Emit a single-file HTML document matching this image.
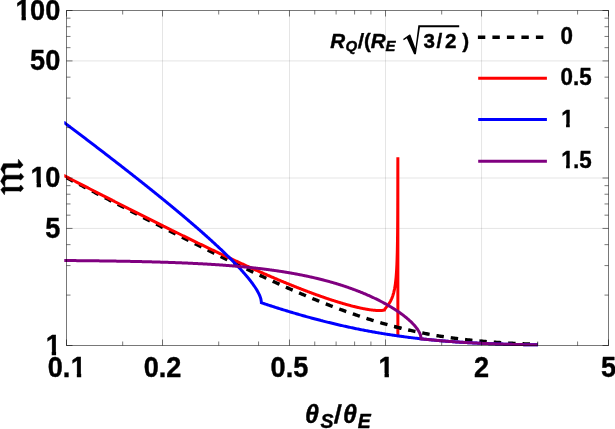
<!DOCTYPE html>
<html><head><meta charset="utf-8"><title>plot</title>
<style>
html,body{margin:0;padding:0;background:#fff;}
svg{display:block;will-change:transform;}
text{font-family:"Liberation Sans",sans-serif;font-weight:bold;fill:#000;stroke:#000;stroke-width:0.4;stroke-linejoin:round;}
.i{font-style:italic;}
</style></head><body>
<svg width="615" height="429" viewBox="0 0 615 429">
<rect width="615" height="429" fill="#fff"/>
<defs><clipPath id="cc"><rect x="64.3" y="0" width="560" height="429"/></clipPath></defs>
<g stroke="#000" stroke-opacity="0.105" stroke-width="1" fill="none">
<line x1="162.53" y1="10.5" x2="162.53" y2="345.5"/>
<line x1="289.48" y1="10.5" x2="289.48" y2="345.5"/>
<line x1="385.52" y1="10.5" x2="385.52" y2="345.5"/>
<line x1="481.55" y1="10.5" x2="481.55" y2="345.5"/>
<line x1="66.5" y1="228.42" x2="608.5" y2="228.42"/>
<line x1="66.5" y1="178.00" x2="608.5" y2="178.00"/>
<line x1="66.5" y1="60.92" x2="608.5" y2="60.92"/>
</g>
<g fill="none" stroke-width="3" stroke-linejoin="miter" clip-path="url(#cc)">
<path d="M63.60 176.22 L64.60 176.74 L65.60 177.26 L66.60 177.78 L67.60 178.30 L68.60 178.82 L69.60 179.34 L70.60 179.86 L71.60 180.39 L72.60 180.91 L73.60 181.43 L74.60 181.95 L75.60 182.47 L76.60 182.99 L77.60 183.51 L78.60 184.03 L79.60 184.55 L80.60 185.07 L81.60 185.59 L82.60 186.11 L83.60 186.63 L84.60 187.15 L85.60 187.67 L86.60 188.19 L87.60 188.71 L88.60 189.23 L89.60 189.75 L90.60 190.27 L91.60 190.79 L92.60 191.31 L93.60 191.83 L94.60 192.35 L95.60 192.87 L96.60 193.38 L97.60 193.90 L98.60 194.42 L99.60 194.94 L100.60 195.46 L101.60 195.98 L102.60 196.50 L103.60 197.02 L104.60 197.53 L105.60 198.05 L106.60 198.57 L107.60 199.09 L108.60 199.61 L109.60 200.12 L110.60 200.64 L111.60 201.16 L112.60 201.68 L113.60 202.19 L114.60 202.71 L115.60 203.23 L116.60 203.75 L117.60 204.26 L118.60 204.78 L119.60 205.30 L120.60 205.81 L121.60 206.33 L122.60 206.85 L123.60 207.36 L124.60 207.88 L125.60 208.39 L126.60 208.91 L127.60 209.43 L128.60 209.94 L129.60 210.46 L130.60 210.97 L131.60 211.49 L132.60 212.00 L133.60 212.52 L134.60 213.03 L135.60 213.55 L136.60 214.06 L137.60 214.58 L138.60 215.09 L139.60 215.60 L140.60 216.12 L141.60 216.63 L142.60 217.15 L143.60 217.66 L144.60 218.17 L145.60 218.68 L146.60 219.20 L147.60 219.71 L148.60 220.22 L149.60 220.74 L150.60 221.25 L151.60 221.76 L152.60 222.27 L153.60 222.78 L154.60 223.29 L155.60 223.81 L156.60 224.32 L157.60 224.83 L158.60 225.34 L159.60 225.85 L160.60 226.36 L161.60 226.87 L162.60 227.38 L163.60 227.89 L164.60 228.40 L165.60 228.91 L166.60 229.41 L167.60 229.92 L168.60 230.43 L169.60 230.94 L170.60 231.45 L171.60 231.96 L172.60 232.46 L173.60 232.97 L174.60 233.48 L175.60 233.98 L176.60 234.49 L177.60 235.00 L178.60 235.50 L179.60 236.01 L180.60 236.51 L181.60 237.02 L182.60 237.52 L183.60 238.03 L184.60 238.53 L185.60 239.04 L186.60 239.54 L187.60 240.04 L188.60 240.55 L189.60 241.05 L190.60 241.55 L191.60 242.05 L192.60 242.55 L193.60 243.06 L194.60 243.56 L195.60 244.06 L196.60 244.56 L197.60 245.06 L198.60 245.56 L199.60 246.06 L200.60 246.56 L201.60 247.05 L202.60 247.55 L203.60 248.05 L204.60 248.55 L205.60 249.05 L206.60 249.54 L207.60 250.04 L208.60 250.53 L209.60 251.03 L210.60 251.53 L211.60 252.02 L212.60 252.51 L213.60 253.01 L214.60 253.50 L215.60 253.99 L216.60 254.49 L217.60 254.98 L218.60 255.47 L219.60 255.96 L220.60 256.45 L221.60 256.94 L222.60 257.43 L223.60 257.92 L224.60 258.41 L225.60 258.90 L226.60 259.39 L227.60 259.87 L228.60 260.36 L229.60 260.85 L230.60 261.33 L231.60 261.82 L232.60 262.30 L233.60 262.79 L234.60 263.27 L235.60 263.75 L236.60 264.24 L237.60 264.72 L238.60 265.20 L239.60 265.68 L240.60 266.16 L241.60 266.64 L242.60 267.12 L243.60 267.60 L244.60 268.07 L245.60 268.55 L246.60 269.03 L247.60 269.50 L248.60 269.98 L249.60 270.45 L250.60 270.93 L251.60 271.40 L252.60 271.87 L253.60 272.34 L254.60 272.81 L255.60 273.28 L256.60 273.75 L257.60 274.22 L258.60 274.69 L259.60 275.16 L260.60 275.62 L261.60 276.09 L262.60 276.55 L263.60 277.02 L264.60 277.48 L265.60 277.94 L266.60 278.40 L267.60 278.86 L268.60 279.32 L269.60 279.78 L270.60 280.24 L271.60 280.70 L272.60 281.15 L273.60 281.61 L274.60 282.06 L275.60 282.52 L276.60 282.97 L277.60 283.42 L278.60 283.87 L279.60 284.32 L280.60 284.77 L281.60 285.22 L282.60 285.67 L283.60 286.11 L284.60 286.56 L285.60 287.00 L286.60 287.44 L287.60 287.89 L288.60 288.33 L289.60 288.77 L290.60 289.20 L291.60 289.64 L292.60 290.08 L293.60 290.51 L294.60 290.95 L295.60 291.38 L296.60 291.81 L297.60 292.24 L298.60 292.67 L299.60 293.10 L300.60 293.53 L301.60 293.95 L302.60 294.38 L303.60 294.80 L304.60 295.22 L305.60 295.65 L306.60 296.07 L307.60 296.48 L308.60 296.90 L309.60 297.32 L310.60 297.73 L311.60 298.14 L312.60 298.56 L313.60 298.97 L314.60 299.38 L315.60 299.78 L316.60 300.19 L317.60 300.60 L318.60 301.00 L319.60 301.40 L320.60 301.80 L321.60 302.20 L322.60 302.60 L323.60 302.99 L324.60 303.39 L325.60 303.78 L326.60 304.17 L327.60 304.56 L328.60 304.95 L329.60 305.34 L330.60 305.72 L331.60 306.11 L332.60 306.49 L333.60 306.87 L334.60 307.25 L335.60 307.63 L336.60 308.00 L337.60 308.38 L338.60 308.75 L339.60 309.12 L340.60 309.49 L341.60 309.86 L342.60 310.22 L343.60 310.59 L344.60 310.95 L345.60 311.31 L346.60 311.67 L347.60 312.02 L348.60 312.38 L349.60 312.73 L350.60 313.08 L351.60 313.43 L352.60 313.78 L353.60 314.13 L354.60 314.47 L355.60 314.81 L356.60 315.15 L357.60 315.49 L358.60 315.83 L359.60 316.16 L360.60 316.49 L361.60 316.82 L362.60 317.15 L363.60 317.48 L364.60 317.80 L365.60 318.13 L366.60 318.45 L367.60 318.76 L368.60 319.08 L369.60 319.40 L370.60 319.71 L371.60 320.02 L372.60 320.33 L373.60 320.63 L374.60 320.94 L375.60 321.24 L376.60 321.54 L377.60 321.84 L378.60 322.13 L379.60 322.43 L380.60 322.72 L381.60 323.01 L382.60 323.29 L383.60 323.58 L384.60 323.86 L385.60 324.14 L386.60 324.42 L387.60 324.70 L388.60 324.97 L389.60 325.25 L390.60 325.52 L391.60 325.78 L392.60 326.05 L393.60 326.31 L394.60 326.57 L395.60 326.83 L396.60 327.09 L397.60 327.35 L398.60 327.60 L399.60 327.85 L400.60 328.10 L401.60 328.34 L402.60 328.59 L403.60 328.83 L404.60 329.07 L405.60 329.30 L406.60 329.54 L407.60 329.77 L408.60 330.00 L409.60 330.23 L410.60 330.46 L411.60 330.68 L412.60 330.90 L413.60 331.12 L414.60 331.34 L415.60 331.55 L416.60 331.77 L417.60 331.98 L418.60 332.18 L419.60 332.39 L420.60 332.59 L421.60 332.80 L422.60 333.00 L423.60 333.19 L424.60 333.39 L425.60 333.58 L426.60 333.77 L427.60 333.96 L428.60 334.15 L429.60 334.33 L430.60 334.51 L431.60 334.69 L432.60 334.87 L433.60 335.05 L434.60 335.22 L435.60 335.39 L436.60 335.56 L437.60 335.73 L438.60 335.90 L439.60 336.06 L440.60 336.22 L441.60 336.38 L442.60 336.54 L443.60 336.69 L444.60 336.85 L445.60 337.00 L446.60 337.15 L447.60 337.29 L448.60 337.44 L449.60 337.58 L450.60 337.72 L451.60 337.86 L452.60 338.00 L453.60 338.14 L454.60 338.27 L455.60 338.40 L456.60 338.53 L457.60 338.66 L458.60 338.79 L459.60 338.91 L460.60 339.03 L461.60 339.16 L462.60 339.27 L463.60 339.39 L464.60 339.51 L465.60 339.62 L466.60 339.73 L467.60 339.84 L468.60 339.95 L469.60 340.06 L470.60 340.17 L471.60 340.27 L472.60 340.37 L473.60 340.47 L474.60 340.57 L475.60 340.67 L476.60 340.76 L477.60 340.86 L478.60 340.95 L479.60 341.04 L480.60 341.13 L481.60 341.22 L482.60 341.31 L483.60 341.39 L484.60 341.48 L485.60 341.56 L486.60 341.64 L487.60 341.72 L488.60 341.80 L489.60 341.87 L490.60 341.95 L491.60 342.02 L492.60 342.10 L493.60 342.17 L494.60 342.24 L495.60 342.31 L496.60 342.38 L497.60 342.44 L498.60 342.51 L499.60 342.57 L500.60 342.63 L501.60 342.70 L502.60 342.76 L503.60 342.82 L504.60 342.87 L505.60 342.93 L506.60 342.99 L507.60 343.04 L508.60 343.10 L509.60 343.15 L510.60 343.20 L511.60 343.25 L512.60 343.30 L513.60 343.35 L514.60 343.40 L515.60 343.45 L516.60 343.49 L517.60 343.54 L518.60 343.58 L519.60 343.63 L520.60 343.67 L521.60 343.71 L522.60 343.75 L523.60 343.79 L524.60 343.83 L525.60 343.87 L526.60 343.91 L527.60 343.94 L528.60 343.98 L529.60 344.02 L530.60 344.05 L531.60 344.08 L532.60 344.12 L533.60 344.15 L534.60 344.18 L535.60 344.21 L536.60 344.24 L537.60 344.27" stroke="#000" stroke-width="3.4" stroke-dasharray="7.45 6.97" stroke-dashoffset="-3.3"/>
<path d="M63.60 175.38 L64.10 175.63 L64.60 175.89 L65.10 176.15 L65.60 176.40 L66.10 176.66 L66.60 176.92 L67.10 177.18 L67.60 177.43 L68.09 177.69 L68.59 177.95 L69.09 178.20 L69.59 178.46 L70.09 178.72 L70.59 178.98 L71.09 179.23 L71.59 179.49 L72.09 179.75 L72.59 180.00 L73.09 180.26 L73.59 180.52 L74.09 180.77 L74.59 181.03 L75.09 181.29 L75.59 181.54 L76.09 181.80 L76.59 182.06 L77.08 182.31 L77.58 182.57 L78.08 182.83 L78.58 183.08 L79.08 183.34 L79.58 183.60 L80.08 183.85 L80.58 184.11 L81.08 184.37 L81.58 184.62 L82.08 184.88 L82.58 185.13 L83.08 185.39 L83.58 185.65 L84.08 185.90 L84.58 186.16 L85.08 186.42 L85.57 186.67 L86.07 186.93 L86.57 187.18 L87.07 187.44 L87.57 187.70 L88.07 187.95 L88.57 188.21 L89.07 188.46 L89.57 188.72 L90.07 188.98 L90.57 189.23 L91.07 189.49 L91.57 189.74 L92.07 190.00 L92.57 190.25 L93.07 190.51 L93.57 190.77 L94.06 191.02 L94.56 191.28 L95.06 191.53 L95.56 191.79 L96.06 192.04 L96.56 192.30 L97.06 192.55 L97.56 192.81 L98.06 193.07 L98.56 193.32 L99.06 193.58 L99.56 193.83 L100.06 194.09 L100.56 194.34 L101.06 194.60 L101.56 194.85 L102.06 195.11 L102.56 195.36 L103.05 195.62 L103.55 195.87 L104.05 196.13 L104.55 196.38 L105.05 196.64 L105.55 196.89 L106.05 197.15 L106.55 197.40 L107.05 197.65 L107.55 197.91 L108.05 198.16 L108.55 198.42 L109.05 198.67 L109.55 198.93 L110.05 199.18 L110.55 199.44 L111.05 199.69 L111.54 199.94 L112.04 200.20 L112.54 200.45 L113.04 200.71 L113.54 200.96 L114.04 201.21 L114.54 201.47 L115.04 201.72 L115.54 201.98 L116.04 202.23 L116.54 202.48 L117.04 202.74 L117.54 202.99 L118.04 203.25 L118.54 203.50 L119.04 203.75 L119.54 204.01 L120.03 204.26 L120.53 204.51 L121.03 204.77 L121.53 205.02 L122.03 205.27 L122.53 205.53 L123.03 205.78 L123.53 206.03 L124.03 206.29 L124.53 206.54 L125.03 206.79 L125.53 207.05 L126.03 207.30 L126.53 207.55 L127.03 207.80 L127.53 208.06 L128.03 208.31 L128.53 208.56 L129.02 208.82 L129.52 209.07 L130.02 209.32 L130.52 209.57 L131.02 209.83 L131.52 210.08 L132.02 210.33 L132.52 210.58 L133.02 210.83 L133.52 211.09 L134.02 211.34 L134.52 211.59 L135.02 211.84 L135.52 212.10 L136.02 212.35 L136.52 212.60 L137.02 212.85 L137.51 213.10 L138.01 213.35 L138.51 213.61 L139.01 213.86 L139.51 214.11 L140.01 214.36 L140.51 214.61 L141.01 214.86 L141.51 215.11 L142.01 215.37 L142.51 215.62 L143.01 215.87 L143.51 216.12 L144.01 216.37 L144.51 216.62 L145.01 216.87 L145.51 217.12 L146.00 217.37 L146.50 217.62 L147.00 217.87 L147.50 218.12 L148.00 218.38 L148.50 218.63 L149.00 218.88 L149.50 219.13 L150.00 219.38 L150.50 219.63 L151.00 219.88 L151.50 220.13 L152.00 220.38 L152.50 220.63 L153.00 220.88 L153.50 221.13 L154.00 221.38 L154.50 221.63 L154.99 221.87 L155.49 222.12 L155.99 222.37 L156.49 222.62 L156.99 222.87 L157.49 223.12 L157.99 223.37 L158.49 223.62 L158.99 223.87 L159.49 224.12 L159.99 224.37 L160.49 224.62 L160.99 224.86 L161.49 225.11 L161.99 225.36 L162.49 225.61 L162.99 225.86 L163.48 226.11 L163.98 226.35 L164.48 226.60 L164.98 226.85 L165.48 227.10 L165.98 227.35 L166.48 227.59 L166.98 227.84 L167.48 228.09 L167.98 228.34 L168.48 228.58 L168.98 228.83 L169.48 229.08 L169.98 229.33 L170.48 229.57 L170.98 229.82 L171.48 230.07 L171.97 230.32 L172.47 230.56 L172.97 230.81 L173.47 231.06 L173.97 231.30 L174.47 231.55 L174.97 231.79 L175.47 232.04 L175.97 232.29 L176.47 232.53 L176.97 232.78 L177.47 233.03 L177.97 233.27 L178.47 233.52 L178.97 233.76 L179.47 234.01 L179.97 234.25 L180.47 234.50 L180.96 234.74 L181.46 234.99 L181.96 235.24 L182.46 235.48 L182.96 235.73 L183.46 235.97 L183.96 236.21 L184.46 236.46 L184.96 236.70 L185.46 236.95 L185.96 237.19 L186.46 237.44 L186.96 237.68 L187.46 237.93 L187.96 238.17 L188.46 238.41 L188.96 238.66 L189.45 238.90 L189.95 239.14 L190.45 239.39 L190.95 239.63 L191.45 239.87 L191.95 240.12 L192.45 240.36 L192.95 240.60 L193.45 240.85 L193.95 241.09 L194.45 241.33 L194.95 241.57 L195.45 241.82 L195.95 242.06 L196.45 242.30 L196.95 242.54 L197.45 242.78 L197.94 243.03 L198.44 243.27 L198.94 243.51 L199.44 243.75 L199.94 243.99 L200.44 244.23 L200.94 244.47 L201.44 244.71 L201.94 244.95 L202.44 245.20 L202.94 245.44 L203.44 245.68 L203.94 245.92 L204.44 246.16 L204.94 246.40 L205.44 246.64 L205.94 246.88 L206.44 247.12 L206.93 247.36 L207.43 247.60 L207.93 247.83 L208.43 248.07 L208.93 248.31 L209.43 248.55 L209.93 248.79 L210.43 249.03 L210.93 249.27 L211.43 249.51 L211.93 249.74 L212.43 249.98 L212.93 250.22 L213.43 250.46 L213.93 250.70 L214.43 250.93 L214.93 251.17 L215.42 251.41 L215.92 251.64 L216.42 251.88 L216.92 252.12 L217.42 252.36 L217.92 252.59 L218.42 252.83 L218.92 253.06 L219.42 253.30 L219.92 253.54 L220.42 253.77 L220.92 254.01 L221.42 254.24 L221.92 254.48 L222.42 254.71 L222.92 254.95 L223.42 255.18 L223.92 255.42 L224.41 255.65 L224.91 255.89 L225.41 256.12 L225.91 256.35 L226.41 256.59 L226.91 256.82 L227.41 257.06 L227.91 257.29 L228.41 257.52 L228.91 257.76 L229.41 257.99 L229.91 258.22 L230.41 258.45 L230.91 258.69 L231.41 258.92 L231.91 259.15 L232.41 259.38 L232.90 259.61 L233.40 259.84 L233.90 260.08 L234.40 260.31 L234.90 260.54 L235.40 260.77 L235.90 261.00 L236.40 261.23 L236.90 261.46 L237.40 261.69 L237.90 261.92 L238.40 262.15 L238.90 262.38 L239.40 262.61 L239.90 262.84 L240.40 263.07 L240.90 263.29 L241.39 263.52 L241.89 263.75 L242.39 263.98 L242.89 264.21 L243.39 264.44 L243.89 264.66 L244.39 264.89 L244.89 265.12 L245.39 265.34 L245.89 265.57 L246.39 265.80 L246.89 266.02 L247.39 266.25 L247.89 266.48 L248.39 266.70 L248.89 266.93 L249.39 267.15 L249.89 267.38 L250.38 267.60 L250.88 267.83 L251.38 268.05 L251.88 268.27 L252.38 268.50 L252.88 268.72 L253.38 268.95 L253.88 269.17 L254.38 269.39 L254.88 269.61 L255.38 269.84 L255.88 270.06 L256.38 270.28 L256.88 270.50 L257.38 270.72 L257.88 270.95 L258.38 271.17 L258.87 271.39 L259.37 271.61 L259.87 271.83 L260.37 272.05 L260.87 272.27 L261.37 272.49 L261.87 272.71 L262.37 272.93 L262.87 273.15 L263.37 273.36 L263.87 273.58 L264.37 273.80 L264.87 274.02 L265.37 274.24 L265.87 274.45 L266.37 274.67 L266.87 274.89 L267.36 275.10 L267.86 275.32 L268.36 275.54 L268.86 275.75 L269.36 275.97 L269.86 276.18 L270.36 276.40 L270.86 276.61 L271.36 276.83 L271.86 277.04 L272.36 277.25 L272.86 277.47 L273.36 277.68 L273.86 277.89 L274.36 278.11 L274.86 278.32 L275.36 278.53 L275.86 278.74 L276.35 278.95 L276.85 279.17 L277.35 279.38 L277.85 279.59 L278.35 279.80 L278.85 280.01 L279.35 280.22 L279.85 280.43 L280.35 280.63 L280.85 280.84 L281.35 281.05 L281.85 281.26 L282.35 281.47 L282.85 281.68 L283.35 281.88 L283.85 282.09 L284.35 282.30 L284.84 282.50 L285.34 282.71 L285.84 282.91 L286.34 283.12 L286.84 283.32 L287.34 283.53 L287.84 283.73 L288.34 283.94 L288.84 284.14 L289.34 284.34 L289.84 284.54 L290.34 284.75 L290.84 284.95 L291.34 285.15 L291.84 285.35 L292.34 285.55 L292.84 285.75 L293.33 285.95 L293.83 286.15 L294.33 286.35 L294.83 286.55 L295.33 286.75 L295.83 286.95 L296.33 287.15 L296.83 287.34 L297.33 287.54 L297.83 287.74 L298.33 287.93 L298.83 288.13 L299.33 288.33 L299.83 288.52 L300.33 288.72 L300.83 288.91 L301.33 289.10 L301.83 289.30 L302.32 289.49 L302.82 289.68 L303.32 289.88 L303.82 290.07 L304.32 290.26 L304.82 290.45 L305.32 290.64 L305.82 290.83 L306.32 291.02 L306.82 291.21 L307.32 291.40 L307.82 291.59 L308.32 291.78 L308.82 291.96 L309.32 292.15 L309.82 292.34 L310.32 292.52 L310.81 292.71 L311.31 292.90 L311.81 293.08 L312.31 293.26 L312.81 293.45 L313.31 293.63 L313.81 293.81 L314.31 294.00 L314.81 294.18 L315.31 294.36 L315.81 294.54 L316.31 294.72 L316.81 294.90 L317.31 295.08 L317.81 295.26 L318.31 295.44 L318.81 295.62 L319.30 295.79 L319.80 295.97 L320.30 296.15 L320.80 296.32 L321.30 296.50 L321.80 296.67 L322.30 296.85 L322.80 297.02 L323.30 297.19 L323.80 297.37 L324.30 297.54 L324.80 297.71 L325.30 297.88 L325.80 298.05 L326.30 298.22 L326.80 298.39 L327.30 298.56 L327.80 298.73 L328.29 298.89 L328.79 299.06 L329.29 299.23 L329.79 299.39 L330.29 299.56 L330.79 299.72 L331.29 299.88 L331.79 300.05 L332.29 300.21 L332.79 300.37 L333.29 300.53 L333.79 300.69 L334.29 300.85 L334.79 301.01 L335.29 301.17 L335.79 301.33 L336.29 301.48 L336.78 301.64 L337.28 301.79 L337.78 301.95 L338.28 302.10 L338.78 302.26 L339.28 302.41 L339.78 302.56 L340.28 302.71 L340.78 302.86 L341.28 303.01 L341.78 303.16 L342.28 303.31 L342.78 303.45 L343.28 303.60 L343.78 303.74 L344.28 303.89 L344.78 304.03 L345.28 304.18 L345.77 304.32 L346.27 304.46 L346.77 304.60 L347.27 304.74 L347.77 304.88 L348.27 305.01 L348.77 305.15 L349.27 305.28 L349.77 305.42 L350.27 305.55 L350.77 305.68 L351.27 305.82 L351.77 305.95 L352.27 306.08 L352.77 306.20 L353.27 306.33 L353.77 306.46 L354.26 306.58 L354.76 306.71 L355.26 306.83 L355.76 306.95 L356.26 307.07 L356.76 307.19 L357.26 307.31 L357.76 307.42 L358.26 307.54 L358.76 307.65 L359.26 307.76 L359.76 307.87 L360.26 307.98 L360.76 308.09 L361.26 308.20 L361.76 308.30 L362.26 308.41 L362.75 308.51 L363.25 308.61 L363.75 308.71 L364.25 308.80 L364.75 308.90 L365.25 308.99 L365.75 309.08 L366.25 309.17 L366.75 309.26 L367.25 309.34 L367.75 309.43 L368.25 309.51 L368.75 309.58 L369.25 309.66 L369.75 309.73 L370.25 309.81 L370.75 309.87 L371.25 309.94 L371.74 310.00 L372.24 310.06 L372.74 310.12 L373.24 310.17 L373.74 310.22 L374.24 310.27 L374.74 310.32 L375.24 310.36 L375.74 310.39 L376.24 310.42 L376.74 310.45 L377.24 310.47 L377.74 310.49 L378.24 310.51 L378.74 310.51 L379.24 310.52 L379.74 310.51 L380.23 310.50 L380.73 310.49 L381.23 310.46 L381.73 310.43 L382.23 310.39 L382.73 310.34 L383.23 310.28 L383.73 310.21 L384.23 310.14 L384.23 310.14 L384.43 310.10 L384.62 309.62 L384.82 309.20 L385.02 308.88 L385.22 308.59 L385.41 308.32 L385.61 308.07 L385.81 307.82 L386.01 307.57 L386.20 307.33 L386.40 307.09 L386.60 306.84 L386.80 306.60 L386.99 306.36 L387.19 306.11 L387.39 305.86 L387.59 305.60 L387.78 305.35 L387.98 305.08 L388.18 304.82 L388.38 304.54 L388.57 304.27 L388.77 303.98 L388.97 303.69 L389.17 303.39 L389.36 303.08 L389.56 302.77 L389.76 302.45 L389.96 302.11 L390.15 301.77 L390.35 301.41 L390.55 301.05 L390.75 300.67 L390.94 300.28 L391.14 299.87 L391.34 299.45 L391.54 299.01 L391.73 298.55 L391.93 298.08 L392.13 297.58 L392.33 297.06 L392.52 296.52 L392.72 295.95 L392.92 295.35 L393.11 294.72 L393.31 294.05 L393.51 293.35 L393.71 292.60 L393.90 291.81 L394.10 290.97 L394.30 290.07 L394.50 289.10 L394.69 288.05 L394.89 286.92 L395.09 285.70 L395.29 284.35 L395.48 282.87 L395.68 281.23 L395.88 279.39 L396.08 277.31 L396.27 274.93 L396.47 272.16 L396.67 268.86 L396.87 264.83 L397.06 259.72 L397.26 252.84 L397.26 252.84 L397.27 252.52 L397.28 252.20 L397.28 251.88 L397.29 251.55 L397.30 251.22 L397.31 250.88 L397.31 250.53 L397.32 250.18 L397.33 249.82 L397.34 249.46 L397.34 249.09 L397.35 248.72 L397.36 248.33 L397.37 247.95 L397.37 247.55 L397.38 247.15 L397.39 246.74 L397.40 246.32 L397.41 245.90 L397.41 245.46 L397.42 245.02 L397.43 244.57 L397.44 244.11 L397.44 243.64 L397.45 243.16 L397.46 242.67 L397.47 242.17 L397.47 241.66 L397.48 241.14 L397.49 240.61 L397.50 240.06 L397.50 239.50 L397.51 238.93 L397.52 238.34 L397.53 237.74 L397.53 237.12 L397.54 236.48 L397.55 235.83 L397.56 235.16 L397.56 234.47 L397.57 233.76 L397.58 233.03 L397.59 232.28 L397.59 231.50 L397.60 230.70 L397.61 229.87 L397.62 229.02 L397.63 228.13 L397.63 227.21 L397.64 226.26 L397.65 225.26 L397.66 224.23 L397.66 223.16 L397.67 222.04 L397.68 220.87 L397.69 219.64 L397.69 218.36 L397.70 217.01 L397.71 215.59 L397.72 214.08 L397.72 212.49 L397.73 210.80 L397.74 209.00 L397.75 207.08 L397.75 205.01 L397.76 202.77 L397.77 200.34 L397.78 197.69 L397.78 194.77 L397.79 191.52 L397.80 187.87 L397.81 183.70 L397.81 178.86 L397.82 173.11 L397.83 166.02 L397.86 157.20 L397.86 335.90" stroke="#ff0000"/>
<path d="M394.18 326.46 L401.40 328.29" stroke="#000" stroke-width="3.4"/>
<path d="M63.60 122.07 L64.10 122.45 L64.60 122.82 L65.10 123.20 L65.60 123.58 L66.10 123.95 L66.60 124.33 L67.10 124.70 L67.60 125.08 L68.10 125.45 L68.59 125.83 L69.09 126.21 L69.59 126.58 L70.09 126.96 L70.59 127.34 L71.09 127.71 L71.59 128.09 L72.09 128.47 L72.59 128.84 L73.09 129.22 L73.59 129.60 L74.09 129.97 L74.59 130.35 L75.09 130.73 L75.59 131.11 L76.09 131.48 L76.59 131.86 L77.09 132.24 L77.58 132.62 L78.08 133.00 L78.58 133.37 L79.08 133.75 L79.58 134.13 L80.08 134.51 L80.58 134.89 L81.08 135.27 L81.58 135.64 L82.08 136.02 L82.58 136.40 L83.08 136.78 L83.58 137.16 L84.08 137.54 L84.58 137.92 L85.08 138.30 L85.58 138.68 L86.08 139.06 L86.58 139.44 L87.07 139.82 L87.57 140.20 L88.07 140.58 L88.57 140.96 L89.07 141.34 L89.57 141.72 L90.07 142.10 L90.57 142.48 L91.07 142.86 L91.57 143.24 L92.07 143.62 L92.57 144.00 L93.07 144.38 L93.57 144.77 L94.07 145.15 L94.57 145.53 L95.07 145.91 L95.57 146.29 L96.06 146.67 L96.56 147.06 L97.06 147.44 L97.56 147.82 L98.06 148.20 L98.56 148.59 L99.06 148.97 L99.56 149.35 L100.06 149.73 L100.56 150.12 L101.06 150.50 L101.56 150.88 L102.06 151.27 L102.56 151.65 L103.06 152.04 L103.56 152.42 L104.06 152.80 L104.56 153.19 L105.05 153.57 L105.55 153.96 L106.05 154.34 L106.55 154.73 L107.05 155.11 L107.55 155.49 L108.05 155.88 L108.55 156.27 L109.05 156.65 L109.55 157.04 L110.05 157.42 L110.55 157.81 L111.05 158.19 L111.55 158.58 L112.05 158.97 L112.55 159.35 L113.05 159.74 L113.55 160.12 L114.05 160.51 L114.54 160.90 L115.04 161.29 L115.54 161.67 L116.04 162.06 L116.54 162.45 L117.04 162.84 L117.54 163.22 L118.04 163.61 L118.54 164.00 L119.04 164.39 L119.54 164.78 L120.04 165.16 L120.54 165.55 L121.04 165.94 L121.54 166.33 L122.04 166.72 L122.54 167.11 L123.04 167.50 L123.53 167.89 L124.03 168.28 L124.53 168.67 L125.03 169.06 L125.53 169.45 L126.03 169.84 L126.53 170.23 L127.03 170.62 L127.53 171.01 L128.03 171.40 L128.53 171.80 L129.03 172.19 L129.53 172.58 L130.03 172.97 L130.53 173.36 L131.03 173.76 L131.53 174.15 L132.03 174.54 L132.53 174.93 L133.02 175.33 L133.52 175.72 L134.02 176.11 L134.52 176.51 L135.02 176.90 L135.52 177.30 L136.02 177.69 L136.52 178.08 L137.02 178.48 L137.52 178.87 L138.02 179.27 L138.52 179.66 L139.02 180.06 L139.52 180.45 L140.02 180.85 L140.52 181.25 L141.02 181.64 L141.52 182.04 L142.01 182.44 L142.51 182.83 L143.01 183.23 L143.51 183.63 L144.01 184.02 L144.51 184.42 L145.01 184.82 L145.51 185.22 L146.01 185.62 L146.51 186.02 L147.01 186.41 L147.51 186.81 L148.01 187.21 L148.51 187.61 L149.01 188.01 L149.51 188.41 L150.01 188.81 L150.51 189.21 L151.01 189.61 L151.50 190.01 L152.00 190.41 L152.50 190.82 L153.00 191.22 L153.50 191.62 L154.00 192.02 L154.50 192.42 L155.00 192.83 L155.50 193.23 L156.00 193.63 L156.50 194.04 L157.00 194.44 L157.50 194.84 L158.00 195.25 L158.50 195.65 L159.00 196.06 L159.50 196.46 L160.00 196.87 L160.49 197.27 L160.99 197.68 L161.49 198.08 L161.99 198.49 L162.49 198.90 L162.99 199.30 L163.49 199.71 L163.99 200.12 L164.49 200.53 L164.99 200.94 L165.49 201.34 L165.99 201.75 L166.49 202.16 L166.99 202.57 L167.49 202.98 L167.99 203.39 L168.49 203.80 L168.99 204.21 L169.48 204.62 L169.98 205.03 L170.48 205.44 L170.98 205.86 L171.48 206.27 L171.98 206.68 L172.48 207.09 L172.98 207.51 L173.48 207.92 L173.98 208.33 L174.48 208.75 L174.98 209.16 L175.48 209.58 L175.98 209.99 L176.48 210.41 L176.98 210.82 L177.48 211.24 L177.98 211.66 L178.48 212.07 L178.97 212.49 L179.47 212.91 L179.97 213.33 L180.47 213.75 L180.97 214.17 L181.47 214.59 L181.97 215.01 L182.47 215.43 L182.97 215.85 L183.47 216.27 L183.97 216.69 L184.47 217.11 L184.97 217.53 L185.47 217.96 L185.97 218.38 L186.47 218.80 L186.97 219.23 L187.47 219.65 L187.96 220.08 L188.46 220.50 L188.96 220.93 L189.46 221.35 L189.96 221.78 L190.46 222.21 L190.96 222.64 L191.46 223.06 L191.96 223.49 L192.46 223.92 L192.96 224.35 L193.46 224.78 L193.96 225.21 L194.46 225.64 L194.96 226.08 L195.46 226.51 L195.96 226.94 L196.46 227.37 L196.96 227.81 L197.45 228.24 L197.95 228.68 L198.45 229.11 L198.95 229.55 L199.45 229.99 L199.95 230.42 L200.45 230.86 L200.95 231.30 L201.45 231.74 L201.95 232.18 L202.45 232.62 L202.95 233.06 L203.45 233.50 L203.95 233.95 L204.45 234.39 L204.95 234.83 L205.45 235.28 L205.95 235.72 L206.44 236.17 L206.94 236.62 L207.44 237.06 L207.94 237.51 L208.44 237.96 L208.94 238.41 L209.44 238.86 L209.94 239.31 L210.44 239.76 L210.94 240.22 L211.44 240.67 L211.94 241.12 L212.44 241.58 L212.94 242.04 L213.44 242.49 L213.94 242.95 L214.44 243.41 L214.94 243.87 L215.44 244.33 L215.93 244.79 L216.43 245.25 L216.93 245.72 L217.43 246.18 L217.93 246.65 L218.43 247.11 L218.93 247.58 L219.43 248.05 L219.93 248.52 L220.43 248.99 L220.93 249.46 L221.43 249.93 L221.93 250.41 L222.43 250.88 L222.93 251.36 L223.43 251.84 L223.93 252.32 L224.43 252.80 L224.92 253.28 L225.42 253.76 L225.92 254.25 L226.42 254.73 L226.92 255.22 L227.42 255.71 L227.92 256.20 L228.42 256.69 L228.92 257.18 L229.42 257.68 L229.92 258.18 L230.42 258.67 L230.92 259.17 L231.42 259.67 L231.92 260.18 L232.42 260.68 L232.92 261.19 L233.42 261.70 L233.91 262.21 L234.41 262.72 L234.91 263.24 L235.41 263.76 L235.91 264.28 L236.41 264.80 L236.91 265.32 L237.41 265.85 L237.91 266.38 L238.41 266.91 L238.91 267.44 L239.41 267.98 L239.91 268.52 L240.41 269.06 L240.91 269.61 L241.41 270.16 L241.91 270.71 L242.41 271.27 L242.91 271.83 L243.40 272.39 L243.90 272.96 L244.40 273.53 L244.90 274.11 L245.40 274.69 L245.90 275.27 L246.40 275.86 L246.90 276.45 L247.40 277.05 L247.90 277.66 L248.40 278.27 L248.90 278.89 L249.40 279.51 L249.90 280.14 L250.40 280.78 L250.90 281.43 L251.40 282.09 L251.90 282.75 L252.39 283.43 L252.89 284.11 L253.39 284.81 L253.89 285.52 L254.39 286.25 L254.89 286.99 L255.39 287.75 L255.89 288.52 L256.39 289.33 L256.89 290.15 L257.39 291.01 L257.89 291.91 L258.39 292.85 L258.89 293.85 L259.39 294.92 L259.89 296.10 L260.39 297.44 L260.89 299.10 L261.39 302.27 L261.40 302.74 L262.39 303.08 L263.39 303.41 L264.39 303.74 L265.38 304.07 L266.38 304.40 L267.38 304.73 L268.38 305.06 L269.37 305.38 L270.37 305.71 L271.37 306.03 L272.36 306.36 L273.36 306.68 L274.36 307.00 L275.35 307.32 L276.35 307.63 L277.35 307.95 L278.35 308.27 L279.34 308.58 L280.34 308.89 L281.34 309.20 L282.33 309.51 L283.33 309.82 L284.33 310.13 L285.33 310.44 L286.32 310.74 L287.32 311.05 L288.32 311.35 L289.31 311.65 L290.31 311.95 L291.31 312.25 L292.31 312.55 L293.30 312.84 L294.30 313.14 L295.30 313.43 L296.29 313.72 L297.29 314.01 L298.29 314.30 L299.29 314.59 L300.28 314.88 L301.28 315.16 L302.28 315.45 L303.27 315.73 L304.27 316.01 L305.27 316.29 L306.27 316.57 L307.26 316.85 L308.26 317.12 L309.26 317.40 L310.25 317.67 L311.25 317.94 L312.25 318.21 L313.25 318.48 L314.24 318.75 L315.24 319.01 L316.24 319.28 L317.23 319.54 L318.23 319.80 L319.23 320.06 L320.23 320.32 L321.22 320.58 L322.22 320.83 L323.22 321.09 L324.21 321.34 L325.21 321.59 L326.21 321.84 L327.21 322.09 L328.20 322.34 L329.20 322.58 L330.20 322.83 L331.19 323.07 L332.19 323.31 L333.19 323.55 L334.19 323.79 L335.18 324.03 L336.18 324.26 L337.18 324.50 L338.17 324.73 L339.17 324.96 L340.17 325.19 L341.17 325.42 L342.16 325.64 L343.16 325.87 L344.16 326.09 L345.15 326.31 L346.15 326.54 L347.15 326.75 L348.15 326.97 L349.14 327.19 L350.14 327.40 L351.14 327.61 L352.13 327.83 L353.13 328.04 L354.13 328.24 L355.13 328.45 L356.12 328.66 L357.12 328.86 L358.12 329.06 L359.11 329.26 L360.11 329.46 L361.11 329.66 L362.11 329.86 L363.10 330.05 L364.10 330.24 L365.10 330.44 L366.09 330.63 L367.09 330.81 L368.09 331.00 L369.09 331.19 L370.08 331.37 L371.08 331.55 L372.08 331.74 L373.07 331.91 L374.07 332.09 L375.07 332.27 L376.07 332.44 L377.06 332.62 L378.06 332.79 L379.06 332.96 L380.05 333.13 L381.05 333.30 L382.05 333.46 L383.04 333.63 L384.04 333.79 L385.04 333.95 L386.04 334.11 L387.03 334.27 L388.03 334.43 L389.03 334.58 L390.02 334.74 L391.02 334.89 L392.02 335.04 L393.02 335.19 L394.01 335.34 L395.01 335.48 L396.01 335.63 L397.00 335.77 L398.00 335.92 L399.00 336.06 L400.00 336.20 L400.99 336.33 L401.99 336.47 L402.99 336.60 L403.98 336.74 L404.98 336.87 L405.98 337.00 L406.98 337.13 L407.97 337.26 L408.97 337.39 L409.97 337.51 L410.96 337.63 L411.96 337.76 L412.96 337.88 L413.96 338.00 L414.95 338.12 L415.95 338.23 L416.95 338.35 L417.94 338.46 L418.94 338.58 L419.94 338.69 L420.94 338.80 L421.93 338.91 L422.93 339.01 L423.93 339.12 L424.92 339.23 L425.92 339.33 L426.92 339.43 L427.92 339.53 L428.91 339.63 L429.91 339.73 L430.91 339.83 L431.90 339.93 L432.90 340.02 L433.90 340.11 L434.90 340.21 L435.89 340.30 L436.89 340.39 L437.89 340.48 L438.88 340.56 L439.88 340.65 L440.88 340.74 L441.88 340.82 L442.87 340.90 L443.87 340.99 L444.87 341.07 L445.86 341.15 L446.86 341.22 L447.86 341.30 L448.86 341.38 L449.85 341.45 L450.85 341.53 L451.85 341.60 L452.84 341.67 L453.84 341.74 L454.84 341.81 L455.84 341.88 L456.83 341.95 L457.83 342.02 L458.83 342.08 L459.82 342.15 L460.82 342.21 L461.82 342.27 L462.82 342.33 L463.81 342.39 L464.81 342.45 L465.81 342.51 L466.80 342.57 L467.80 342.63 L468.80 342.68 L469.80 342.74 L470.79 342.79 L471.79 342.85 L472.79 342.90 L473.78 342.95 L474.78 343.00 L475.78 343.05 L476.78 343.10 L477.77 343.15 L478.77 343.20 L479.77 343.24 L480.76 343.29 L481.76 343.34 L482.76 343.38 L483.76 343.42 L484.75 343.47 L485.75 343.51 L486.75 343.55 L487.74 343.59 L488.74 343.63 L489.74 343.67 L490.73 343.71 L491.73 343.75 L492.73 343.78 L493.73 343.82 L494.72 343.86 L495.72 343.89 L496.72 343.92 L497.71 343.96 L498.71 343.99 L499.71 344.02 L500.71 344.06 L501.70 344.09 L502.70 344.12 L503.70 344.15 L504.69 344.18 L505.69 344.21 L506.69 344.24 L507.69 344.26 L508.68 344.29 L509.68 344.32 L510.68 344.34 L511.67 344.37 L512.67 344.40 L513.67 344.42 L514.67 344.44 L515.66 344.47 L516.66 344.49 L517.66 344.51 L518.65 344.54 L519.65 344.56 L520.65 344.58 L521.65 344.60 L522.64 344.62 L523.64 344.64 L524.64 344.66 L525.63 344.68 L526.63 344.70 L527.63 344.72 L528.63 344.74 L529.62 344.75 L530.62 344.77 L531.62 344.79 L532.61 344.81 L533.61 344.82 L534.61 344.84 L535.61 344.85 L536.60 344.87 L537.60 344.88" stroke="#0000ff"/>
<path d="M63.60 260.52 L64.10 260.52 L64.60 260.53 L65.10 260.53 L65.60 260.53 L66.10 260.54 L66.60 260.54 L67.10 260.55 L67.60 260.55 L68.10 260.55 L68.60 260.56 L69.10 260.56 L69.60 260.57 L70.10 260.57 L70.60 260.57 L71.10 260.58 L71.60 260.58 L72.10 260.59 L72.60 260.59 L73.10 260.60 L73.60 260.60 L74.10 260.60 L74.60 260.61 L75.10 260.61 L75.60 260.62 L76.10 260.62 L76.60 260.63 L77.10 260.63 L77.60 260.64 L78.10 260.64 L78.60 260.65 L79.10 260.65 L79.60 260.66 L80.10 260.66 L80.60 260.67 L81.10 260.67 L81.60 260.68 L82.10 260.68 L82.60 260.69 L83.10 260.69 L83.60 260.70 L84.10 260.70 L84.60 260.71 L85.10 260.71 L85.60 260.72 L86.10 260.72 L86.60 260.73 L87.10 260.73 L87.60 260.74 L88.10 260.74 L88.60 260.75 L89.10 260.75 L89.60 260.76 L90.10 260.76 L90.60 260.77 L91.10 260.78 L91.60 260.78 L92.10 260.79 L92.60 260.79 L93.10 260.80 L93.60 260.81 L94.10 260.81 L94.60 260.82 L95.10 260.82 L95.60 260.83 L96.10 260.84 L96.60 260.84 L97.10 260.85 L97.60 260.85 L98.10 260.86 L98.60 260.87 L99.10 260.87 L99.60 260.88 L100.10 260.89 L100.60 260.89 L101.10 260.90 L101.60 260.91 L102.10 260.91 L102.60 260.92 L103.10 260.93 L103.60 260.93 L104.10 260.94 L104.60 260.95 L105.10 260.95 L105.60 260.96 L106.10 260.97 L106.60 260.97 L107.10 260.98 L107.60 260.99 L108.10 261.00 L108.60 261.00 L109.10 261.01 L109.60 261.02 L110.10 261.02 L110.60 261.03 L111.10 261.04 L111.60 261.05 L112.10 261.05 L112.60 261.06 L113.10 261.07 L113.60 261.08 L114.10 261.09 L114.60 261.09 L115.10 261.10 L115.60 261.11 L116.10 261.12 L116.60 261.13 L117.10 261.13 L117.60 261.14 L118.10 261.15 L118.60 261.16 L119.10 261.17 L119.60 261.18 L120.10 261.18 L120.60 261.19 L121.10 261.20 L121.60 261.21 L122.10 261.22 L122.60 261.23 L123.10 261.24 L123.60 261.25 L124.10 261.26 L124.60 261.26 L125.10 261.27 L125.60 261.28 L126.10 261.29 L126.60 261.30 L127.10 261.31 L127.60 261.32 L128.10 261.33 L128.60 261.34 L129.10 261.35 L129.60 261.36 L130.10 261.37 L130.60 261.38 L131.10 261.39 L131.60 261.40 L132.10 261.41 L132.60 261.42 L133.10 261.43 L133.60 261.44 L134.10 261.45 L134.60 261.46 L135.10 261.47 L135.60 261.48 L136.10 261.49 L136.60 261.50 L137.10 261.52 L137.60 261.53 L138.10 261.54 L138.60 261.55 L139.10 261.56 L139.60 261.57 L140.10 261.58 L140.60 261.59 L141.10 261.61 L141.60 261.62 L142.10 261.63 L142.60 261.64 L143.10 261.65 L143.60 261.66 L144.10 261.68 L144.60 261.69 L145.10 261.70 L145.60 261.71 L146.10 261.73 L146.60 261.74 L147.10 261.75 L147.60 261.76 L148.10 261.78 L148.60 261.79 L149.10 261.80 L149.60 261.81 L150.10 261.83 L150.60 261.84 L151.10 261.85 L151.60 261.87 L152.10 261.88 L152.60 261.89 L153.10 261.91 L153.60 261.92 L154.10 261.94 L154.60 261.95 L155.10 261.96 L155.60 261.98 L156.10 261.99 L156.60 262.01 L157.10 262.02 L157.60 262.04 L158.10 262.05 L158.60 262.07 L159.10 262.08 L159.60 262.09 L160.10 262.11 L160.60 262.13 L161.10 262.14 L161.60 262.16 L162.10 262.17 L162.60 262.19 L163.10 262.20 L163.60 262.22 L164.10 262.23 L164.60 262.25 L165.10 262.27 L165.60 262.28 L166.10 262.30 L166.60 262.32 L167.10 262.33 L167.60 262.35 L168.10 262.37 L168.60 262.38 L169.10 262.40 L169.60 262.42 L170.10 262.43 L170.60 262.45 L171.10 262.47 L171.60 262.49 L172.10 262.51 L172.60 262.52 L173.10 262.54 L173.60 262.56 L174.10 262.58 L174.60 262.60 L175.10 262.62 L175.60 262.63 L176.10 262.65 L176.60 262.67 L177.10 262.69 L177.60 262.71 L178.10 262.73 L178.60 262.75 L179.10 262.77 L179.60 262.79 L180.10 262.81 L180.60 262.83 L181.10 262.85 L181.60 262.87 L182.10 262.89 L182.60 262.91 L183.10 262.93 L183.60 262.95 L184.10 262.97 L184.60 262.99 L185.10 263.02 L185.60 263.04 L186.10 263.06 L186.60 263.08 L187.10 263.10 L187.60 263.12 L188.10 263.15 L188.60 263.17 L189.09 263.19 L189.59 263.21 L190.09 263.24 L190.59 263.26 L191.09 263.28 L191.59 263.31 L192.09 263.33 L192.59 263.35 L193.09 263.38 L193.59 263.40 L194.09 263.43 L194.59 263.45 L195.09 263.48 L195.59 263.50 L196.09 263.52 L196.59 263.55 L197.09 263.58 L197.59 263.60 L198.09 263.63 L198.59 263.65 L199.09 263.68 L199.59 263.70 L200.09 263.73 L200.59 263.76 L201.09 263.78 L201.59 263.81 L202.09 263.84 L202.59 263.86 L203.09 263.89 L203.59 263.92 L204.09 263.95 L204.59 263.98 L205.09 264.00 L205.59 264.03 L206.09 264.06 L206.59 264.09 L207.09 264.12 L207.59 264.15 L208.09 264.18 L208.59 264.21 L209.09 264.24 L209.59 264.27 L210.09 264.30 L210.59 264.33 L211.09 264.36 L211.59 264.39 L212.09 264.42 L212.59 264.45 L213.09 264.48 L213.59 264.51 L214.09 264.54 L214.59 264.58 L215.09 264.61 L215.59 264.64 L216.09 264.67 L216.59 264.71 L217.09 264.74 L217.59 264.77 L218.09 264.81 L218.59 264.84 L219.09 264.87 L219.59 264.91 L220.09 264.94 L220.59 264.98 L221.09 265.01 L221.59 265.05 L222.09 265.08 L222.59 265.12 L223.09 265.16 L223.59 265.19 L224.09 265.23 L224.59 265.27 L225.09 265.30 L225.59 265.34 L226.09 265.38 L226.59 265.41 L227.09 265.45 L227.59 265.49 L228.09 265.53 L228.59 265.57 L229.09 265.61 L229.59 265.65 L230.09 265.69 L230.59 265.73 L231.09 265.77 L231.59 265.81 L232.09 265.85 L232.59 265.89 L233.09 265.93 L233.59 265.97 L234.09 266.01 L234.59 266.05 L235.09 266.10 L235.59 266.14 L236.09 266.18 L236.59 266.22 L237.09 266.27 L237.59 266.31 L238.09 266.36 L238.59 266.40 L239.09 266.44 L239.59 266.49 L240.09 266.53 L240.59 266.58 L241.09 266.63 L241.59 266.67 L242.09 266.72 L242.59 266.76 L243.09 266.81 L243.59 266.86 L244.09 266.91 L244.59 266.95 L245.09 267.00 L245.59 267.05 L246.09 267.10 L246.59 267.15 L247.09 267.20 L247.59 267.25 L248.09 267.30 L248.59 267.35 L249.09 267.40 L249.59 267.45 L250.09 267.50 L250.59 267.55 L251.09 267.61 L251.59 267.66 L252.09 267.71 L252.59 267.77 L253.09 267.82 L253.59 267.87 L254.09 267.93 L254.59 267.98 L255.09 268.04 L255.59 268.09 L256.09 268.15 L256.59 268.20 L257.09 268.26 L257.59 268.32 L258.09 268.38 L258.59 268.43 L259.09 268.49 L259.59 268.55 L260.09 268.61 L260.59 268.67 L261.09 268.73 L261.59 268.79 L262.09 268.85 L262.59 268.91 L263.09 268.97 L263.59 269.03 L264.09 269.09 L264.59 269.15 L265.09 269.22 L265.59 269.28 L266.09 269.34 L266.59 269.41 L267.09 269.47 L267.59 269.54 L268.09 269.60 L268.59 269.67 L269.09 269.73 L269.59 269.80 L270.09 269.87 L270.59 269.93 L271.09 270.00 L271.59 270.07 L272.09 270.14 L272.59 270.21 L273.09 270.28 L273.59 270.35 L274.09 270.42 L274.59 270.49 L275.09 270.56 L275.59 270.63 L276.09 270.70 L276.59 270.77 L277.09 270.85 L277.59 270.92 L278.09 271.00 L278.59 271.07 L279.09 271.14 L279.59 271.22 L280.09 271.30 L280.59 271.37 L281.09 271.45 L281.59 271.53 L282.09 271.60 L282.59 271.68 L283.09 271.76 L283.59 271.84 L284.09 271.92 L284.59 272.00 L285.09 272.08 L285.59 272.16 L286.09 272.25 L286.59 272.33 L287.09 272.41 L287.59 272.49 L288.09 272.58 L288.59 272.66 L289.09 272.75 L289.59 272.83 L290.09 272.92 L290.59 273.01 L291.09 273.09 L291.59 273.18 L292.09 273.27 L292.59 273.36 L293.09 273.45 L293.59 273.54 L294.09 273.63 L294.59 273.72 L295.09 273.81 L295.59 273.90 L296.09 273.99 L296.59 274.09 L297.09 274.18 L297.59 274.28 L298.09 274.37 L298.59 274.47 L299.09 274.56 L299.59 274.66 L300.09 274.76 L300.59 274.86 L301.09 274.95 L301.59 275.05 L302.09 275.15 L302.59 275.25 L303.09 275.35 L303.59 275.46 L304.09 275.56 L304.59 275.66 L305.09 275.76 L305.59 275.87 L306.09 275.97 L306.59 276.08 L307.09 276.18 L307.59 276.29 L308.09 276.40 L308.59 276.51 L309.09 276.62 L309.59 276.73 L310.09 276.84 L310.59 276.95 L311.09 277.06 L311.59 277.17 L312.09 277.28 L312.59 277.40 L313.09 277.51 L313.59 277.62 L314.09 277.74 L314.59 277.86 L315.09 277.97 L315.59 278.09 L316.09 278.21 L316.59 278.33 L317.09 278.45 L317.59 278.57 L318.09 278.69 L318.59 278.81 L319.09 278.93 L319.59 279.06 L320.09 279.18 L320.59 279.30 L321.09 279.43 L321.59 279.56 L322.09 279.68 L322.59 279.81 L323.09 279.94 L323.59 280.07 L324.09 280.20 L324.59 280.33 L325.09 280.46 L325.59 280.59 L326.09 280.73 L326.59 280.86 L327.09 281.00 L327.59 281.13 L328.09 281.27 L328.59 281.41 L329.09 281.54 L329.59 281.68 L330.09 281.82 L330.59 281.96 L331.09 282.10 L331.59 282.25 L332.09 282.39 L332.59 282.53 L333.09 282.68 L333.59 282.82 L334.09 282.97 L334.59 283.12 L335.09 283.27 L335.59 283.41 L336.09 283.56 L336.59 283.72 L337.09 283.87 L337.59 284.02 L338.09 284.17 L338.59 284.33 L339.09 284.48 L339.59 284.64 L340.09 284.80 L340.59 284.95 L341.09 285.11 L341.59 285.27 L342.09 285.43 L342.59 285.60 L343.09 285.76 L343.59 285.92 L344.09 286.09 L344.59 286.25 L345.09 286.42 L345.59 286.59 L346.09 286.76 L346.59 286.93 L347.09 287.10 L347.59 287.27 L348.09 287.44 L348.59 287.61 L349.09 287.79 L349.59 287.96 L350.09 288.14 L350.59 288.32 L351.09 288.50 L351.59 288.68 L352.09 288.86 L352.59 289.04 L353.09 289.22 L353.59 289.41 L354.09 289.59 L354.59 289.78 L355.09 289.97 L355.59 290.16 L356.09 290.35 L356.59 290.54 L357.09 290.73 L357.59 290.92 L358.09 291.12 L358.59 291.31 L359.09 291.51 L359.59 291.71 L360.09 291.90 L360.59 292.11 L361.09 292.31 L361.59 292.51 L362.09 292.71 L362.59 292.92 L363.09 293.12 L363.59 293.33 L364.09 293.54 L364.59 293.75 L365.09 293.96 L365.59 294.18 L366.09 294.39 L366.59 294.60 L367.09 294.82 L367.59 295.04 L368.09 295.26 L368.59 295.48 L369.09 295.70 L369.59 295.93 L370.09 296.15 L370.59 296.38 L371.09 296.60 L371.59 296.83 L372.09 297.06 L372.59 297.30 L373.09 297.53 L373.59 297.76 L374.09 298.00 L374.59 298.24 L375.09 298.48 L375.59 298.72 L376.09 298.96 L376.59 299.21 L377.09 299.45 L377.59 299.70 L378.09 299.95 L378.59 300.20 L379.09 300.45 L379.59 300.71 L380.09 300.96 L380.59 301.22 L381.09 301.48 L381.59 301.74 L382.09 302.01 L382.59 302.27 L383.09 302.54 L383.59 302.81 L384.09 303.08 L384.59 303.35 L385.09 303.62 L385.59 303.90 L386.09 304.18 L386.59 304.46 L387.09 304.74 L387.59 305.03 L388.09 305.31 L388.59 305.60 L389.09 305.89 L389.59 306.19 L390.09 306.48 L390.59 306.78 L391.09 307.08 L391.59 307.38 L392.09 307.69 L392.59 308.00 L393.09 308.31 L393.59 308.62 L394.09 308.94 L394.59 309.25 L395.09 309.58 L395.59 309.90 L396.09 310.23 L396.59 310.56 L397.09 310.89 L397.59 311.23 L398.09 311.57 L398.59 311.91 L399.09 312.25 L399.59 312.60 L400.09 312.96 L400.59 313.31 L401.09 313.67 L401.59 314.04 L402.09 314.41 L402.59 314.78 L403.09 315.16 L403.59 315.54 L404.09 315.92 L404.59 316.31 L405.09 316.71 L405.59 317.11 L406.09 317.52 L406.59 317.93 L407.09 318.34 L407.59 318.77 L408.09 319.20 L408.59 319.64 L409.09 320.08 L409.59 320.53 L410.09 320.99 L410.59 321.46 L411.09 321.94 L411.59 322.42 L412.09 322.92 L412.59 323.43 L413.09 323.95 L413.59 324.49 L414.09 325.03 L414.59 325.60 L415.09 326.18 L415.59 326.78 L416.09 327.41 L416.59 328.06 L417.09 328.74 L417.59 329.46 L418.09 330.22 L418.59 331.03 L419.09 331.92 L419.59 332.91 L420.09 334.05 L420.59 335.50 L421.09 338.37 L421.10 338.82 L422.09 338.92 L423.09 339.03 L424.08 339.14 L425.08 339.24 L426.07 339.35 L427.07 339.45 L428.07 339.55 L429.06 339.65 L430.06 339.75 L431.05 339.84 L432.05 339.94 L433.04 340.03 L434.04 340.13 L435.04 340.22 L436.03 340.31 L437.03 340.40 L438.02 340.49 L439.02 340.58 L440.02 340.66 L441.01 340.75 L442.01 340.83 L443.00 340.91 L444.00 341.00 L444.99 341.08 L445.99 341.16 L446.99 341.23 L447.98 341.31 L448.98 341.39 L449.97 341.46 L450.97 341.54 L451.96 341.61 L452.96 341.68 L453.96 341.75 L454.95 341.82 L455.95 341.89 L456.94 341.96 L457.94 342.02 L458.93 342.09 L459.93 342.15 L460.93 342.22 L461.92 342.28 L462.92 342.34 L463.91 342.40 L464.91 342.46 L465.91 342.52 L466.90 342.58 L467.90 342.63 L468.89 342.69 L469.89 342.75 L470.88 342.80 L471.88 342.85 L472.88 342.91 L473.87 342.96 L474.87 343.01 L475.86 343.06 L476.86 343.11 L477.85 343.15 L478.85 343.20 L479.85 343.25 L480.84 343.29 L481.84 343.34 L482.83 343.38 L483.83 343.43 L484.82 343.47 L485.82 343.51 L486.82 343.55 L487.81 343.59 L488.81 343.63 L489.80 343.67 L490.80 343.71 L491.79 343.75 L492.79 343.79 L493.79 343.82 L494.78 343.86 L495.78 343.89 L496.77 343.93 L497.77 343.96 L498.77 343.99 L499.76 344.03 L500.76 344.06 L501.75 344.09 L502.75 344.12 L503.74 344.15 L504.74 344.18 L505.74 344.21 L506.73 344.24 L507.73 344.26 L508.72 344.29 L509.72 344.32 L510.71 344.35 L511.71 344.37 L512.71 344.40 L513.70 344.42 L514.70 344.45 L515.69 344.47 L516.69 344.49 L517.68 344.52 L518.68 344.54 L519.68 344.56 L520.67 344.58 L521.67 344.60 L522.66 344.62 L523.66 344.64 L524.66 344.66 L525.65 344.68 L526.65 344.70 L527.64 344.72 L528.64 344.74 L529.63 344.75 L530.63 344.77 L531.63 344.79 L532.62 344.81 L533.62 344.82 L534.61 344.84 L535.61 344.85 L536.60 344.87 L537.60 344.88" stroke="#800080"/>
</g>
<g stroke="#000" stroke-opacity="0.53" stroke-width="1" fill="none">
<rect x="66.5" y="10.5" width="542.0" height="335.0"/>
<path d="M66.50 345.5v-6M66.50 10.5v6M162.53 345.5v-6M162.53 10.5v6M289.48 345.5v-6M289.48 10.5v6M385.52 345.5v-6M385.52 10.5v6M481.55 345.5v-6M481.55 10.5v6M608.50 345.5v-6M608.50 10.5v6M122.68 345.5v-4M122.68 10.5v4M218.71 345.5v-4M218.71 10.5v4M258.57 345.5v-4M258.57 10.5v4M314.74 345.5v-4M314.74 10.5v4M336.10 345.5v-4M336.10 10.5v4M354.60 345.5v-4M354.60 10.5v4M370.92 345.5v-4M370.92 10.5v4M441.69 345.5v-4M441.69 10.5v4M537.73 345.5v-4M537.73 10.5v4M577.58 345.5v-4M577.58 10.5v4M66.5 345.50h6M608.5 345.50h-6M66.5 228.42h6M608.5 228.42h-6M66.5 178.00h6M608.5 178.00h-6M66.5 60.92h6M608.5 60.92h-6M66.5 10.50h6M608.5 10.50h-6M66.5 295.08h4M608.5 295.08h-4M66.5 265.58h4M608.5 265.58h-4M66.5 244.65h4M608.5 244.65h-4M66.5 215.16h4M608.5 215.16h-4M66.5 203.95h4M608.5 203.95h-4M66.5 194.23h4M608.5 194.23h-4M66.5 185.66h4M608.5 185.66h-4M66.5 127.58h4M608.5 127.58h-4M66.5 98.08h4M608.5 98.08h-4M66.5 77.15h4M608.5 77.15h-4M66.5 47.66h4M608.5 47.66h-4M66.5 36.45h4M608.5 36.45h-4M66.5 26.73h4M608.5 26.73h-4M66.5 18.16h4M608.5 18.16h-4"/>
</g>
<g font-size="29.5">
<text transform="translate(45.16 354.85) scale(0.92 1)" dx="0.60">1</text>
<text transform="translate(45.16 237.77) scale(0.92 1)">5</text>
<text transform="translate(30.06 187.35) scale(0.92 1)" dx="0.60 -0.60">10</text>
<text transform="translate(30.06 70.27) scale(0.92 1)">50</text>
<text transform="translate(14.97 19.85) scale(0.92 1)" dx="0.60 -0.60 0.00">100</text>
<text transform="translate(47.64 377.40) scale(0.92 1)" dx="0.00 0.00 0.60">0.1</text>
<text transform="translate(143.67 377.40) scale(0.92 1)">0.2</text>
<text transform="translate(270.62 377.40) scale(0.92 1)">0.5</text>
<text transform="translate(377.97 377.40) scale(0.92 1)" dx="0.60">1</text>
<text transform="translate(474.00 377.40) scale(0.92 1)">2</text>
<text transform="translate(600.95 377.40) scale(0.92 1)">5</text>
</g>
<path fill="#000" stroke="#000" stroke-width="0.5" d="M3.43 163.64 L18.12 163.64 L18.41 159.13 L23.11 165.01 L20.08 168.14 L18.12 167.56 L6.86 167.56 L4.90 169.71 L4.90 175.59 L0.78 169.22Z M3.92 175.20 L19.39 175.20 L20.76 173.24 L23.80 176.76 L20.76 180.09 L19.10 179.11 L6.86 179.11 L4.90 181.27 L4.90 187.54 L0.59 181.27Z M2.94 187.34 L19.39 187.34 L20.76 184.99 L23.51 188.32 L20.76 191.55 L19.10 190.97 L5.09 190.97 L4.41 194.79 L0.78 189.79Z"/>
<g font-size="26" class="i">
<text transform="translate(304.9 423.0) scale(0.96 1)">θ</text>
<text x="320.5" y="428.0" font-size="19.5">S</text>
<text transform="translate(333.7 423.0) skewX(-3)" font-style="normal" stroke-width="0.2">/</text>
<text transform="translate(342.9 423.0) scale(0.96 1)">θ</text>
<text x="357.7" y="428.0" font-size="19.5">E</text>
</g>
<g font-size="20.6">
<text class="i" x="330.2" y="47.7">R</text>
<text class="i" x="345.4" y="50.9" font-size="15">Q</text>
<text transform="translate(357.7 47.7) skewX(-3)" stroke-width="0.2">/</text>
<text x="364.0" y="47.7">(</text>
<text class="i" x="370.8" y="47.7">R</text>
<text class="i" x="385.5" y="50.9" font-size="15">E</text>
<path d="M403.13 39.03 L409.5 34.42 L410.39 34.87 L415.43 48.32 L418.35 25.2 L459.2 25.2 L459.2 27.2 L419.95 27.2 L415.88 54.34 L414.11 54.34 L406.85 38.32 L403.75 40.18 Z" fill="#000"/>
<text x="423.5" y="47.7">3</text>
<text x="436.5" y="47.7">/</text>
<text x="445.0" y="47.7">2</text>
<text x="462.2" y="47.7">)</text>
</g>
<g font-size="24.2">
<text transform="translate(560.60 44.30) scale(0.926 1)">0</text>
<text transform="translate(560.60 85.40) scale(0.926 1)">0.5</text>
<text transform="translate(560.60 126.60) scale(0.926 1)" dx="0.59">1</text>
<text transform="translate(560.60 168.30) scale(0.926 1)" dx="0.59 -0.59 0.00">1.5</text>
</g>
<g fill="none" stroke-width="3">
<path d="M477.9 37.2H543.5" stroke="#000" stroke-width="3.4" stroke-dasharray="7.4 7.1"/>
<path d="M478.2 78.3H546.9" stroke="#ff0000"/>
<path d="M478.2 119.5H546.9" stroke="#0000ff"/>
<path d="M478.2 161.2H546.9" stroke="#800080"/>
</g>
<g fill="#fff">
<rect x="45.82" y="350.44" width="5.90" height="6.01"/>
<rect x="56.08" y="350.44" width="5.16" height="6.01"/>
<rect x="30.72" y="182.94" width="5.90" height="6.01"/>
<rect x="40.99" y="182.94" width="5.16" height="6.01"/>
<rect x="15.63" y="15.44" width="5.90" height="6.01"/>
<rect x="25.90" y="15.44" width="5.16" height="6.01"/>
<rect x="70.93" y="372.99" width="5.90" height="6.01"/>
<rect x="81.20" y="372.99" width="5.16" height="6.01"/>
<rect x="378.63" y="372.99" width="5.90" height="6.01"/>
<rect x="388.90" y="372.99" width="5.16" height="6.01"/>
<rect x="560.96" y="122.73" width="5.10" height="5.47"/>
<rect x="569.77" y="122.73" width="4.41" height="5.47"/>
<rect x="560.96" y="164.43" width="5.10" height="5.47"/>
<rect x="569.77" y="164.43" width="4.41" height="5.47"/>
</g>
</svg>
</body></html>
